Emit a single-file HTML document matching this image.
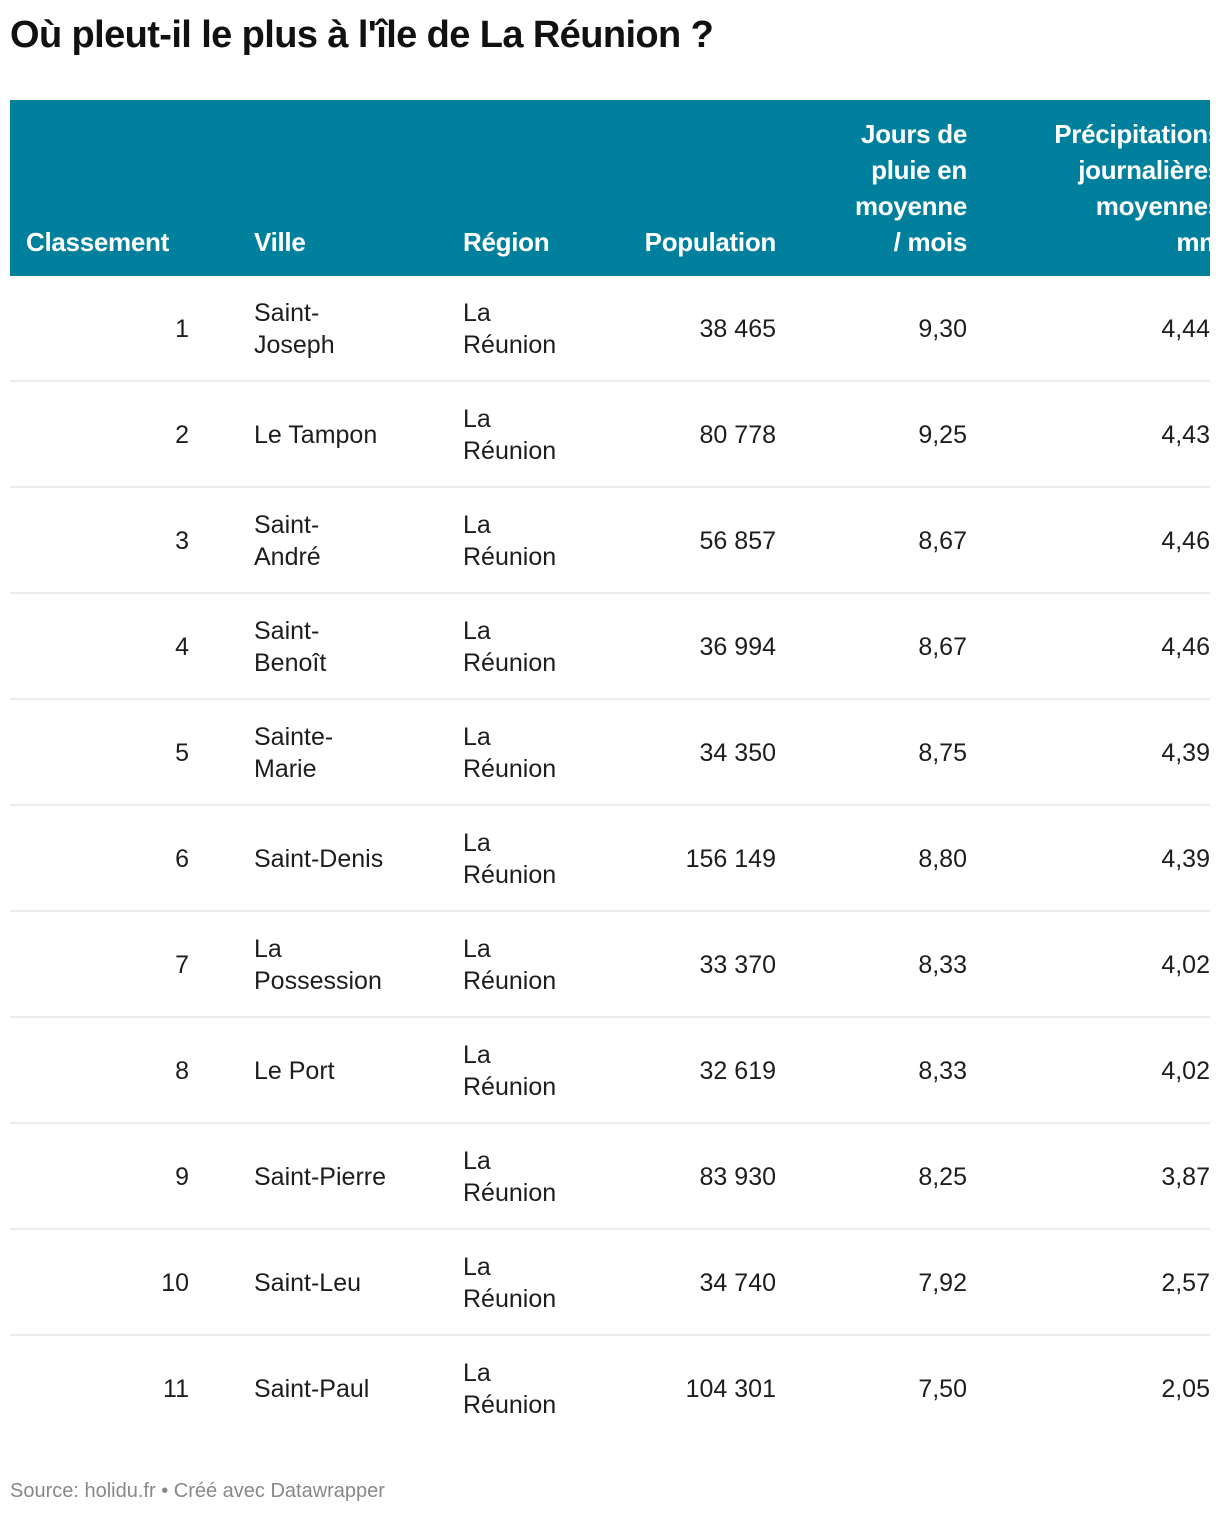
<!DOCTYPE html>
<html><head><meta charset="utf-8">
<style>
body{margin:0;width:1220px;height:1516px;background:#fff;position:relative;overflow:hidden;font-family:"Liberation Sans",sans-serif;color:#1d1d1d}
.abs{position:absolute}
h1{position:absolute;left:10px;top:10px;margin:0;font-size:38px;font-weight:bold;letter-spacing:-0.6px;color:#111;line-height:50px}
#head{left:10px;top:100px;width:1200px;height:176px;background:#00809d;overflow:hidden}
.th{position:absolute;color:#fff;font-weight:bold;font-size:26px;line-height:36px;bottom:16px;letter-spacing:-0.3px}
.cell{position:absolute;font-size:25px;line-height:32px;display:flex;align-items:center;height:106px}
.sep{position:absolute;left:10px;width:1200px;height:2px;background:#ececec}
#tbody{position:absolute;left:0;top:276px;width:1210px;height:1170px;overflow:hidden}
.foot{left:10px;top:1480px;font-size:20px;color:#888}
</style></head><body>
<h1>Où pleut-il le plus à l'île de La Réunion ?</h1>
<div id="head" class="abs">
  <div class="th" style="left:16px">Classement</div>
  <div class="th" style="left:244px">Ville</div>
  <div class="th" style="left:453px">Région</div>
  <div class="th" style="right:434px;text-align:right">Population</div>
  <div class="th" style="right:243px;text-align:right">Jours de<br>pluie en<br>moyenne<br>/ mois</div>
  <div class="th" style="right:-12px;text-align:right;white-space:nowrap">Précipitations<br>journalières<br>moyennes<br>mm</div>
</div>
<div id="tbody"></div>
<div class="abs foot">Source: holidu.fr • Créé avec Datawrapper</div>
<script>
const ranks=[1,2,3,4,5,6,7,8,9,10,11];
const cities=["Saint-<br>Joseph","Le Tampon","Saint-<br>André","Saint-<br>Benoît","Sainte-<br>Marie","Saint-Denis","La<br>Possession","Le Port","Saint-Pierre","Saint-Leu","Saint-Paul"];
const populations=["38 465","80 778","56 857","36 994","34 350","156 149","33 370","32 619","83 930","34 740","104 301"];
const rainDays=["9,30","9,25","8,67","8,67","8,75","8,80","8,33","8,33","8,25","7,92","7,50"];
const precip=["4,44","4,43","4,46","4,46","4,39","4,39","4,02","4,02","3,87","2,57","2,05"];
const body=document.getElementById('tbody');
function cell(txt,left,right,y,name){
  const d=document.createElement('div');
  d.className='cell';
  d.style.top=y+'px';
  if(left!=null){d.style.left=left+'px';}
  if(right!=null){d.style.right=right+'px';d.style.justifyContent='flex-end';d.style.textAlign='right';}
  d.innerHTML=txt;
  
  
  body.appendChild(d);
}
ranks.forEach((r,i)=>{
  const y=i*106;
  cell(String(r),null,1021,y,'rank-cell');
  cell(cities[i],254,null,y,'city-cell');
  cell('La<br>Réunion',463,null,y,'region-cell');
  cell(populations[i],null,434,y,'population-cell');
  cell(rainDays[i],null,243,y,'rain-days-cell');
  cell(precip[i],null,0,y,'precipitation-cell');
  if(i<ranks.length-1){
    const s=document.createElement('div');
    s.className='sep';
    s.style.top=(y+104)+'px';
    
    
    body.appendChild(s);
  }
});
</script>
</body></html>
